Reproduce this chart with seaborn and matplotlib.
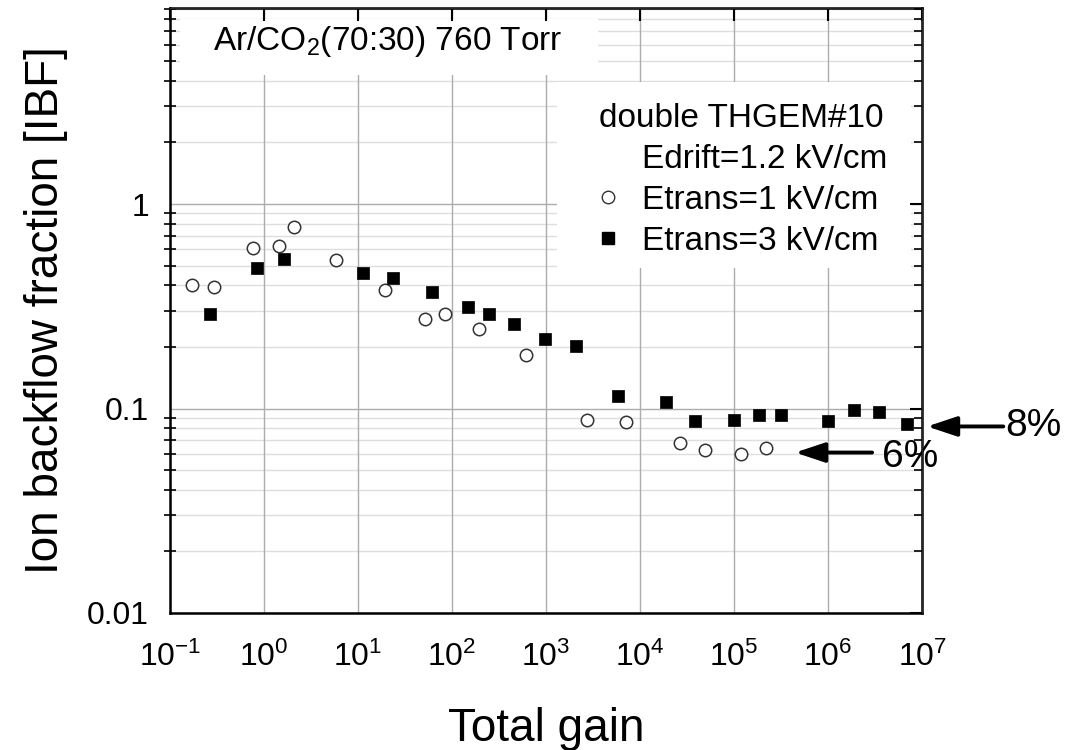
import pandas as pd
import matplotlib.pyplot as plt
import seaborn as sns
from matplotlib import ticker
from matplotlib.lines import Line2D
from matplotlib.patches import Rectangle

# Data (total gain vs ion backflow fraction)
gain_1kv = [0.170, 0.294, 0.759, 1.44, 2.08, 5.9, 19.5, 51, 84, 195, 612,
            2710, 7040, 2.69e4, 4.88e4, 1.18e5, 2.19e5]
ibf_1kv = [0.404, 0.395, 0.61, 0.624, 0.77, 0.533, 0.379, 0.273, 0.290, 0.245, 0.183,
           0.0877, 0.0855, 0.068, 0.0626, 0.0601, 0.0638]

gain_3kv = [0.268, 0.85, 1.62, 11.4, 23.8, 61.2, 146, 248, 457, 975, 2085,
            5790, 1.9e4, 3.87e4, 1.0e5, 1.83e5, 3.16e5, 1.0e6, 1.89e6, 3.46e6, 6.87e6]
ibf_3kv = [0.291, 0.487, 0.539, 0.459, 0.434, 0.371, 0.314, 0.291, 0.260, 0.219, 0.203,
           0.115, 0.108, 0.0867, 0.0874, 0.0925, 0.0925, 0.0867, 0.098, 0.0964, 0.0838]

labels = ["Etrans=1 kV/cm", "Etrans=3 kV/cm"]

# annotation arrows (gain, ibf) for the plateau levels
arrow_8 = dict(head=(1.13e7, 0.0817), tail=(7.3e7, 0.0817), text=(7.6e7, 0.0825))
arrow_6 = dict(head=(4.46e5, 0.0609), tail=(2.94e6, 0.0609), text=(3.75e6, 0.0578))

df1 = pd.DataFrame({"gain": gain_1kv, "ibf": ibf_1kv})
df3 = pd.DataFrame({"gain": gain_3kv, "ibf": ibf_3kv})

sns.set_style("white")
plt.rcParams["font.family"] = ["Liberation Sans", "DejaVu Sans"]
plt.rcParams["mathtext.fontset"] = "custom"
plt.rcParams["mathtext.rm"] = "Liberation Sans"
plt.rcParams["mathtext.it"] = "Liberation Sans:italic"
plt.rcParams["mathtext.default"] = "regular"
for k in ("text.color", "axes.labelcolor", "xtick.color", "ytick.color"):
    plt.rcParams[k] = "black"

fig = plt.figure(figsize=(10.76, 7.5), dpi=100)
ax = fig.add_axes([0.158, 0.1827, 0.699, 0.8067])

ax.set_xscale("log")
ax.set_yscale("log")
ax.set_xlim(0.1, 1e7)
ax.set_ylim(0.01, 9.1)

ax.xaxis.set_major_locator(ticker.LogLocator(base=10, numticks=20))
ax.xaxis.set_minor_locator(ticker.NullLocator())
ax.xaxis.set_major_formatter(ticker.LogFormatterSciNotation())
ax.yaxis.set_major_locator(ticker.FixedLocator([0.01, 0.1, 1]))
ax.yaxis.set_major_formatter(ticker.FuncFormatter(lambda v, p: f"{v:g}"))
ax.yaxis.set_minor_locator(ticker.LogLocator(base=10, subs=range(2, 10), numticks=20))
ax.yaxis.set_minor_formatter(ticker.NullFormatter())

# grid drawn by hand so the white boxes can sit between grid and ticks
for v in ax.xaxis.get_majorticklocs():
    ax.axvline(v, color="#acacac", lw=1.0, zorder=0.5)
for v in ax.yaxis.get_majorticklocs():
    ax.axhline(v, color="#acacac", lw=1.0, zorder=0.5)
for v in ax.yaxis.get_minorticklocs():
    ax.axhline(v, color="#dedede", lw=1.0, zorder=0.4)

ax.add_patch(Rectangle((0.013, 0.889), 0.556, 0.092, transform=ax.transAxes,
                       facecolor="white", edgecolor="none", zorder=1))
ax.add_patch(Rectangle((0.515, 0.570), 0.47, 0.308, transform=ax.transAxes,
                       facecolor="white", edgecolor="none", zorder=1))

sns.scatterplot(data=df1, x="gain", y="ibf", ax=ax, marker="o", s=80,
                facecolor="white", edgecolor="#333333", linewidth=1.1, zorder=3)
sns.scatterplot(data=df3, x="gain", y="ibf", ax=ax, marker="s", s=80,
                color="black", edgecolor="black", linewidth=0.5, zorder=3)

ax.text(0.29, 0.944, "Ar/CO$_2$(70:30) 760 Torr", transform=ax.transAxes,
        ha="center", va="center", fontsize=24, zorder=4)

handles = [Line2D([], [], linestyle="none"),
           Line2D([], [], linestyle="none", marker="o", markersize=9,
                  markerfacecolor="white", markeredgecolor="#333333"),
           Line2D([], [], linestyle="none", marker="s", markersize=9, color="black")]
leg = ax.legend(handles, ["Edrift=1.2 kV/cm"] + labels, title="double THGEM#10",
                loc="upper left", bbox_to_anchor=(0.565, 0.843), frameon=False,
                fontsize=24, title_fontsize=24, handlelength=0.8, handletextpad=0.6,
                labelspacing=0.3, borderpad=0, borderaxespad=0)
leg.set_zorder(4)

for a in (arrow_8, arrow_6):
    ax.annotate("", xy=a["head"], xytext=a["tail"], annotation_clip=False,
                arrowprops=dict(arrowstyle="-|>,head_length=0.9,head_width=0.3",
                                mutation_scale=20, lw=2.8, color="black",
                                shrinkA=0, shrinkB=0))
ax.text(*arrow_8["text"], "8%", fontsize=28, va="center", ha="left", clip_on=False)
ax.text(*arrow_6["text"], "6%", fontsize=28, va="center", ha="left", clip_on=False)

ax.set_xlabel("Total gain", fontsize=33, labelpad=24)
ax.set_ylabel("Ion backflow fraction [IBF]", fontsize=33, labelpad=14)

for s in ax.spines.values():
    s.set_linewidth(1.8)
    s.set_color("black")
ax.tick_params(axis="x", which="major", direction="out", length=9, width=1.5,
               labelsize=23, pad=12, top=False)
ax.tick_params(axis="y", which="major", direction="out", length=7, width=1.5,
               labelsize=23, pad=8)
ax.tick_params(axis="y", which="minor", direction="inout", length=8, width=1.2, left=True)

# inward ticks on top and right
ax_top = ax.secondary_xaxis("top")
ax_top.xaxis.set_major_locator(ticker.LogLocator(base=10, numticks=20))
ax_top.xaxis.set_minor_locator(ticker.NullLocator())
ax_top.tick_params(direction="in", length=9, width=1.5, labeltop=False)
ax_top.set_zorder(5)
ax_right = ax.secondary_yaxis("right")
ax_right.yaxis.set_major_locator(ticker.FixedLocator([0.01, 0.1, 1]))
ax_right.yaxis.set_minor_locator(ticker.LogLocator(base=10, subs=range(2, 10), numticks=20))
ax_right.tick_params(which="major", direction="in", length=9, width=1.5, labelright=False)
ax_right.tick_params(which="minor", direction="in", length=6, width=1.2)
ax_right.yaxis.set_minor_formatter(ticker.NullFormatter())
ax_right.set_zorder(5)

fig.savefig("out.png", dpi=100)
